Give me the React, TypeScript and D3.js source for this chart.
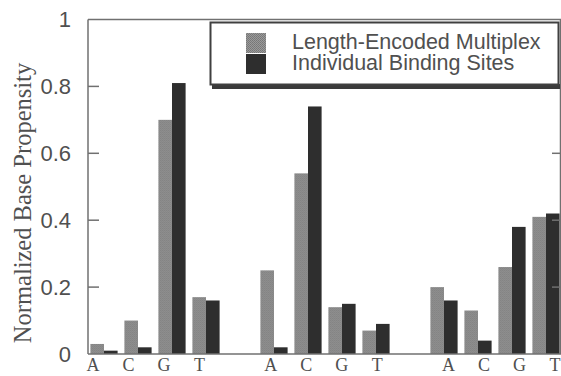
import React, { useEffect, useRef } from "react";
import * as d3 from "d3";

// bases repeated in three groups, with one empty slot between groups
const bases = ["A", "C", "G", "T"];
const groups = [0, 1, 2];
const seriesNames = ["Length-Encoded Multiplex", "Individual Binding Sites"];
const multiplexValues = [0.03, 0.1, 0.7, 0.17, 0.25, 0.54, 0.14, 0.07, 0.2, 0.13, 0.26, 0.41];
const bindingValues = [0.01, 0.02, 0.81, 0.16, 0.02, 0.74, 0.15, 0.09, 0.16, 0.04, 0.38, 0.42];
const yTicks = [0, 0.2, 0.4, 0.6, 0.8, 1];

const App = () => {
  const svgRef = useRef<SVGSVGElement>(null);

  useEffect(() => {
    const width = 561;
    const height = 376;
    const margin = { top: 19.5, right: 0, bottom: 21.5, left: 88 };
    const axisColor = "#707070";
    const textColor = "#505050";
    const darkFill = "#2e2e2e";

    const svg = d3.select(svgRef.current);
    svg.selectAll("*").remove();
    svg.attr("width", width).attr("height", height);

    // stippled fill for the light bars
    const defs = svg.append("defs");
    const pat = defs
      .append("pattern")
      .attr("id", "stipple")
      .attr("width", 2)
      .attr("height", 2)
      .attr("patternUnits", "userSpaceOnUse");
    pat.append("rect").attr("width", 2).attr("height", 2).attr("fill", "#9a9a9a");
    pat.append("rect").attr("width", 1).attr("height", 1).attr("fill", "#767676");
    pat.append("rect").attr("x", 1).attr("y", 1).attr("width", 1).attr("height", 1).attr("fill", "#7c7c7c");

    const slotCount = groups.length * (bases.length + 1) - 1;
    const slots = d3.range(slotCount);

    const data = groups.flatMap((g) =>
      bases.map((b, i) => ({
        slot: g * (bases.length + 1) + i,
        base: b,
        values: [multiplexValues[g * 4 + i], bindingValues[g * 4 + i]],
      }))
    );

    const x = d3.scaleBand<number>().domain(slots).range([87, 563]).paddingInner(0.2).paddingOuter(0.1);
    const xSeries = d3.scaleBand<number>().domain([0, 1]).range([0, x.bandwidth()]);
    const xLabel = d3.scaleLinear().domain([0, slotCount - 1]).range([93, 555]);
    const y = d3.scaleLinear().domain([0, 1]).range([height - margin.bottom - 0.5, margin.top]);

    const plotRight = width;
    const y0 = y(0);
    const y1 = y(1);

    // bars
    const barGroups = svg
      .append("g")
      .selectAll("g")
      .data(data)
      .enter()
      .append("g")
      .attr("transform", (d) => `translate(${x(d.slot)},0)`);

    barGroups
      .selectAll("rect")
      .data((d) => d.values.map((v, k) => ({ v, k })))
      .enter()
      .append("rect")
      .attr("x", (d) => xSeries(d.k)!)
      .attr("y", (d) => y(d.v))
      .attr("width", xSeries.bandwidth())
      .attr("height", (d) => y0 - y(d.v))
      .attr("fill", (d) => (d.k === 0 ? "url(#stipple)" : darkFill));

    // frame
    const frame = svg.append("g").attr("stroke", axisColor).attr("stroke-width", 1.5).attr("fill", "none");
    frame.append("line").attr("x1", margin.left).attr("x2", plotRight).attr("y1", y1).attr("y2", y1);
    frame.append("line").attr("x1", margin.left).attr("x2", plotRight).attr("y1", y0).attr("y2", y0);
    frame.append("line").attr("x1", margin.left).attr("x2", margin.left).attr("y1", y1).attr("y2", y0);
    frame.append("line").attr("x1", plotRight - 0.5).attr("x2", plotRight - 0.5).attr("y1", y1).attr("y2", y0);

    // ticks on both sides, pointing inward
    yTicks.slice(1, -1).forEach((t) => {
      frame.append("line").attr("x1", margin.left).attr("x2", margin.left + 11).attr("y1", y(t)).attr("y2", y(t));
      frame.append("line").attr("x1", plotRight - 9).attr("x2", plotRight).attr("y1", y(t)).attr("y2", y(t));
    });

    // y tick labels
    svg
      .append("g")
      .selectAll("text")
      .data(yTicks)
      .enter()
      .append("text")
      .attr("x", 71)
      .attr("y", (d) => y(d))
      .attr("dy", "0.36em")
      .attr("text-anchor", "end")
      .attr("fill", textColor)
      .style("font-family", "'Liberation Sans', Arial, sans-serif")
      .style("font-size", "22px")
      .text((d) => (d === 0 || d === 1 ? String(d) : d.toFixed(1)));

    // x labels
    svg
      .append("g")
      .selectAll("text")
      .data(data)
      .enter()
      .append("text")
      .attr("x", (d) => xLabel(d.slot))
      .attr("y", 371)
      .attr("text-anchor", "middle")
      .attr("fill", textColor)
      .style("font-family", "'Liberation Serif', 'Times New Roman', serif")
      .style("font-size", "18px")
      .text((d) => d.base);

    // y title
    svg
      .append("text")
      .attr("transform", `translate(31,${203}) rotate(-90)`)
      .attr("text-anchor", "middle")
      .attr("fill", textColor)
      .style("font-family", "'Liberation Serif', 'Times New Roman', serif")
      .style("font-size", "24.5px")
      .text("Normalized Base Propensity");

    // legend
    const legend = svg.append("g");
    legend.append("rect").attr("x", 212).attr("y", 84).attr("width", 348).attr("height", 5).attr("fill", "#3a3a3a");
    legend
      .append("rect")
      .attr("x", 210.5)
      .attr("y", 22.5)
      .attr("width", 348)
      .attr("height", 62)
      .attr("fill", "#fff")
      .attr("stroke", "#404040")
      .attr("stroke-width", 2);

    seriesNames.forEach((name, i) => {
      legend
        .append("rect")
        .attr("x", 246)
        .attr("y", 33 + i * 21)
        .attr("width", 20)
        .attr("height", 20)
        .attr("fill", i === 0 ? "url(#stipple)" : darkFill);
      legend
        .append("text")
        .attr("x", 292)
        .attr("y", 49 + i * 21)
        .attr("fill", textColor)
        .style("font-family", "'Liberation Sans', Arial, sans-serif")
        .style("font-size", "21.5px")
        .text(name);
    });
  }, []);

  return <svg ref={svgRef} style={{ position: "absolute", left: 0, top: 0, background: "#fff" }}></svg>;
};

export default App;
